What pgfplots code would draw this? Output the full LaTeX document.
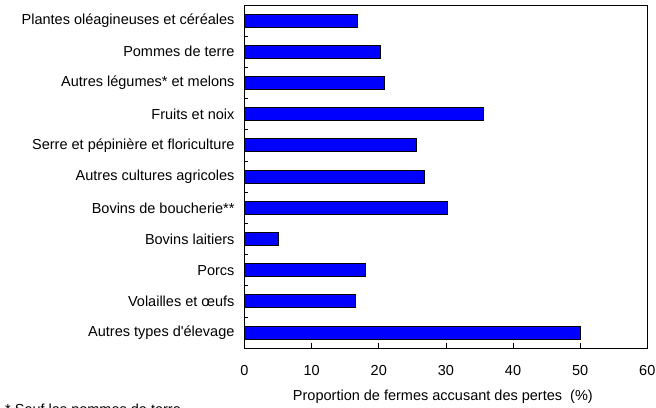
\documentclass[border=0pt]{standalone}
\usepackage{fontspec}
\setmainfont{Liberation Sans}
\usepackage{pgfplots}
\pgfplotsset{compat=1.18}
\usetikzlibrary{calc}
\definecolor{barblue}{RGB}{0,0,255}
\begin{document}
\fontsize{14.5bp}{17bp}\selectfont
\begin{tikzpicture}
\begin{axis}[
  scale only axis,
  width=402.8bp, height=343.3bp,
  xbar, bar width=13bp,
  xmin=0, xmax=60,
  ymin=-0.5, ymax=10.5,
  y dir=reverse,
  xtick={0,10,...,60},
  ytick={0,...,10},
  yticklabels={Plantes oléagineuses et céréales, Pommes de terre, Autres légumes* et melons, Fruits et noix, Serre et pépinière et floriculture, Autres cultures agricoles, Bovins de boucherie**, Bovins laitiers, Porcs, Volailles et œufs, Autres types d\textquotesingle élevage},
  minor ytick={0.5,1.5,...,9.5},
  every major y tick/.style={draw=none},
  every minor y tick/.style={black, line width=0.8pt},
  minor tick length=4bp,
  major tick length=5bp,
  tick align=inside,
  tick pos=left,
  axis line style={black, line width=1pt},
  every x tick/.append style={black, line width=0.6pt},
  /pgf/number format/assume math mode=true,
  ticklabel style={font=\fontsize{14.5bp}{17bp}\selectfont},
  xticklabel style={yshift=-12bp},
  yticklabel style={xshift=-5bp},
  xlabel={Proportion de fermes accusant des pertes\ \ (\%)},
  xlabel style={font=\fontsize{14.5bp}{17bp}\selectfont, at={(axis description cs:0.5,0)}, anchor=base, yshift=-52bp, xshift=-3bp},
  clip=false,
]
\addplot[fill=barblue, draw=black, line width=1pt] coordinates {
(16.8,0) (20.2,1) (20.8,2) (35.6,3) (25.6,4) (26.8,5) (30.3,6) (5.1,7) (18.0,8) (16.6,9) (50.0,10)
};
\coordinate (O) at (axis description cs:0,0);
\end{axis}
\pgfresetboundingbox
\path[use as bounding box] ($(O)+(-244.5bp,-59.7bp)$) rectangle ($(O)+(411.5bp,348.3bp)$);
\node[overlay, anchor=base west, inner sep=0pt, font=\fontsize{14.5bp}{17bp}\selectfont] at ($(O)+(-239.5bp,-66bp)$) {* Sauf les pommes de terre};
\end{tikzpicture}
\end{document}
